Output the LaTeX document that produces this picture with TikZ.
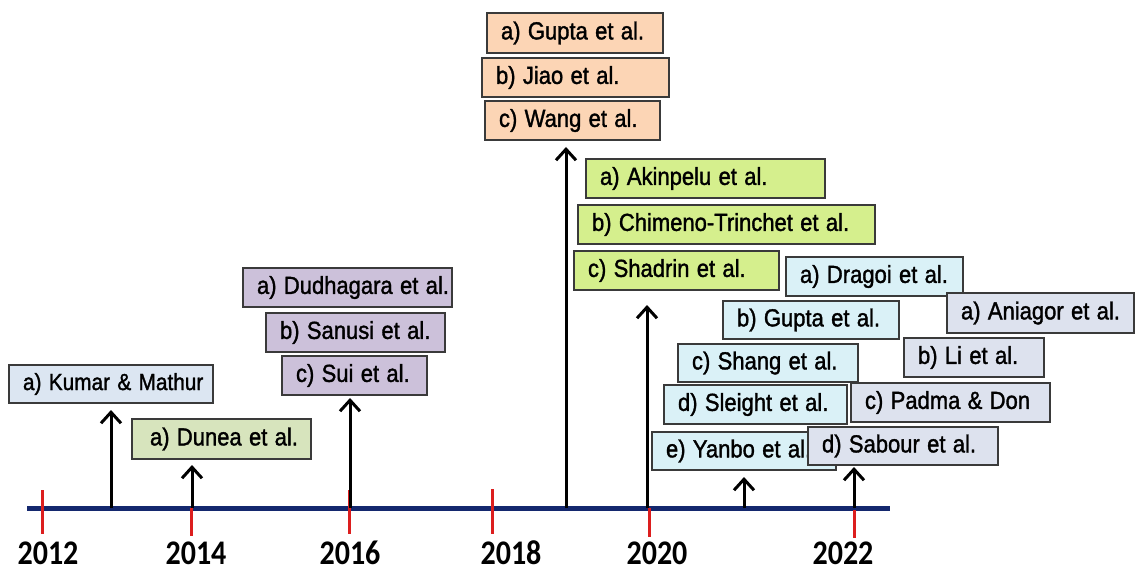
\documentclass[tikz,border=0pt]{standalone}
\usepackage{fontspec}
\usepackage{graphicx}
\setmainfont{Liberation Sans}
\newfontfamily\yearfont{Carlito}
\newfontfamily\boxfont[FakeBold=1.5]{Liberation Sans}
\usetikzlibrary{arrows.meta}
\definecolor{cKumar}{HTML}{DCE6F2}
\definecolor{cDunea}{HTML}{D7E4BD}
\definecolor{cPurple}{HTML}{CCC1DA}
\definecolor{cPeach}{HTML}{FCD5B5}
\definecolor{cLime}{HTML}{D5EF8D}
\definecolor{cCyan}{HTML}{DAF1F7}
\definecolor{cGrayBlue}{HTML}{DDE2EE}
\definecolor{cNavy}{RGB}{20,40,110}
\definecolor{cTick}{RGB}{220,30,30}
\definecolor{cBorder}{HTML}{3A3A3A}
\tikzset{
  tbox/.style={draw=cBorder, line width=1.6pt, rectangle, inner xsep=0pt, inner ysep=0pt,
    align=left, font=\boxfont\fontsize{22}{26}\selectfont},
  timeline/.style={draw=cNavy, line width=5pt},
  yeartick/.style={draw=cTick, line width=3pt},
  pointer/.style={draw=black, line width=3pt, -{Straight Barb[length=11pt,width=20pt]}},
  yearlabel/.style={font=\yearfont\bfseries\fontsize{30}{31}\selectfont, inner sep=0pt}
}
\newcommand\tbox[7]{%
  \pgfmathsetmacro\bw{#4-#2}\pgfmathsetmacro\bh{#5-#3}%
  \node[tbox, fill=#6, text width=\bw pt, minimum height=\bh pt] (#1) at ({(#2+#4)/2},{(#3+#5)/2}) {\hspace*{14pt}\scalebox{1}[1.12]{#7}};}
\begin{document}
\begin{tikzpicture}[x=1pt,y=-1pt]
\path[use as bounding box, fill=white] (0,0) rectangle (1135,572);
% timeline
\coordinate (tlA) at (27,508);
\coordinate (tlB) at (890,508);
\draw[timeline] (tlA) -- (tlB);
% ticks
\foreach \n/\x/\ya/\yb in {12/42/490/534, 14/191/508/536, 16/349/490/534, 18/492/489/534, 20/649/508/537, 22/854/510/538}{
  \coordinate (tk\n a) at (\x,\ya);
  \coordinate (tk\n b) at (\x,\yb);
  \draw[yeartick] (tk\n a) -- (tk\n b);
}
% year labels
\node[yearlabel] (y12) at (48,553) {\scalebox{1}[1.15]{2012}};
\node[yearlabel] (y14) at (196,553) {\scalebox{1}[1.15]{2014}};
\node[yearlabel] (y16) at (350,553) {\scalebox{1}[1.15]{2016}};
\node[yearlabel] (y18) at (511,553) {\scalebox{1}[1.15]{2018}};
\node[yearlabel] (y20) at (657,553) {\scalebox{1}[1.15]{2020}};
\node[yearlabel] (y22) at (843,553) {\scalebox{1}[1.15]{2022}};
% arrows
\foreach \n/\x/\y in {a13/111/410, a14/192/465, a16/350/398, a19/566/147, a20/647/305, a21/744/477, a22/854/467}{
  \coordinate (\n s) at (\x,508);
  \coordinate (\n e) at (\x,\y);
  \draw[pointer] (\n s) -- (\n e);
}
% boxes
\tbox{kumar}{9}{365}{213}{403}{cKumar}{\fontsize{20.8}{26}\selectfont a) Kumar \& Mathur}
\tbox{dunea}{132}{419}{311}{459}{cDunea}{\hspace*{4pt}a) Dunea et al.}
\tbox{dudhagara}{243}{268}{452}{307}{cPurple}{a) Dudhagara et al.}
\tbox{sanusi}{266}{313}{445}{352}{cPurple}{b) Sanusi et al.}
\tbox{sui}{282}{356}{427}{395}{cPurple}{c) Sui et al.}
\tbox{guptaA}{487}{13}{663}{53}{cPeach}{a) Gupta et al.}
\tbox{jiao}{482}{58}{669}{97}{cPeach}{b) Jiao et al.}
\tbox{wang}{485}{101}{660}{140}{cPeach}{c) Wang et al.}
\tbox{akinpelu}{586}{159}{825}{198}{cLime}{a) Akinpelu et al.}
\tbox{chimeno}{578}{205}{875}{244}{cLime}{b) Chimeno-Trinchet et al.}
\tbox{shadrin}{574}{251}{779}{290}{cLime}{c) Shadrin et al.}
\tbox{dragoi}{786}{257}{963}{296}{cCyan}{a) Dragoi et al.}
\tbox{guptaB}{723}{301}{899}{339}{cCyan}{b) Gupta et al.}
\tbox{shang}{678}{344}{858}{382}{cCyan}{c) Shang et al.}
\tbox{sleight}{664}{385}{847}{424}{cCyan}{d) Sleight et al.}
\tbox{yanbo}{652}{432}{836}{470}{cCyan}{e) Yanbo et al.}
\tbox{aniagor}{947}{293}{1134}{333}{cGrayBlue}{a) Aniagor et al.}
\tbox{li}{904}{338}{1044}{377}{cGrayBlue}{b) Li et al.}
\tbox{padma}{851}{383}{1050}{422}{cGrayBlue}{c) Padma \& Don}
\tbox{sabour}{808}{427}{998}{465}{cGrayBlue}{d) Sabour et al.}
\end{tikzpicture}
\end{document}
